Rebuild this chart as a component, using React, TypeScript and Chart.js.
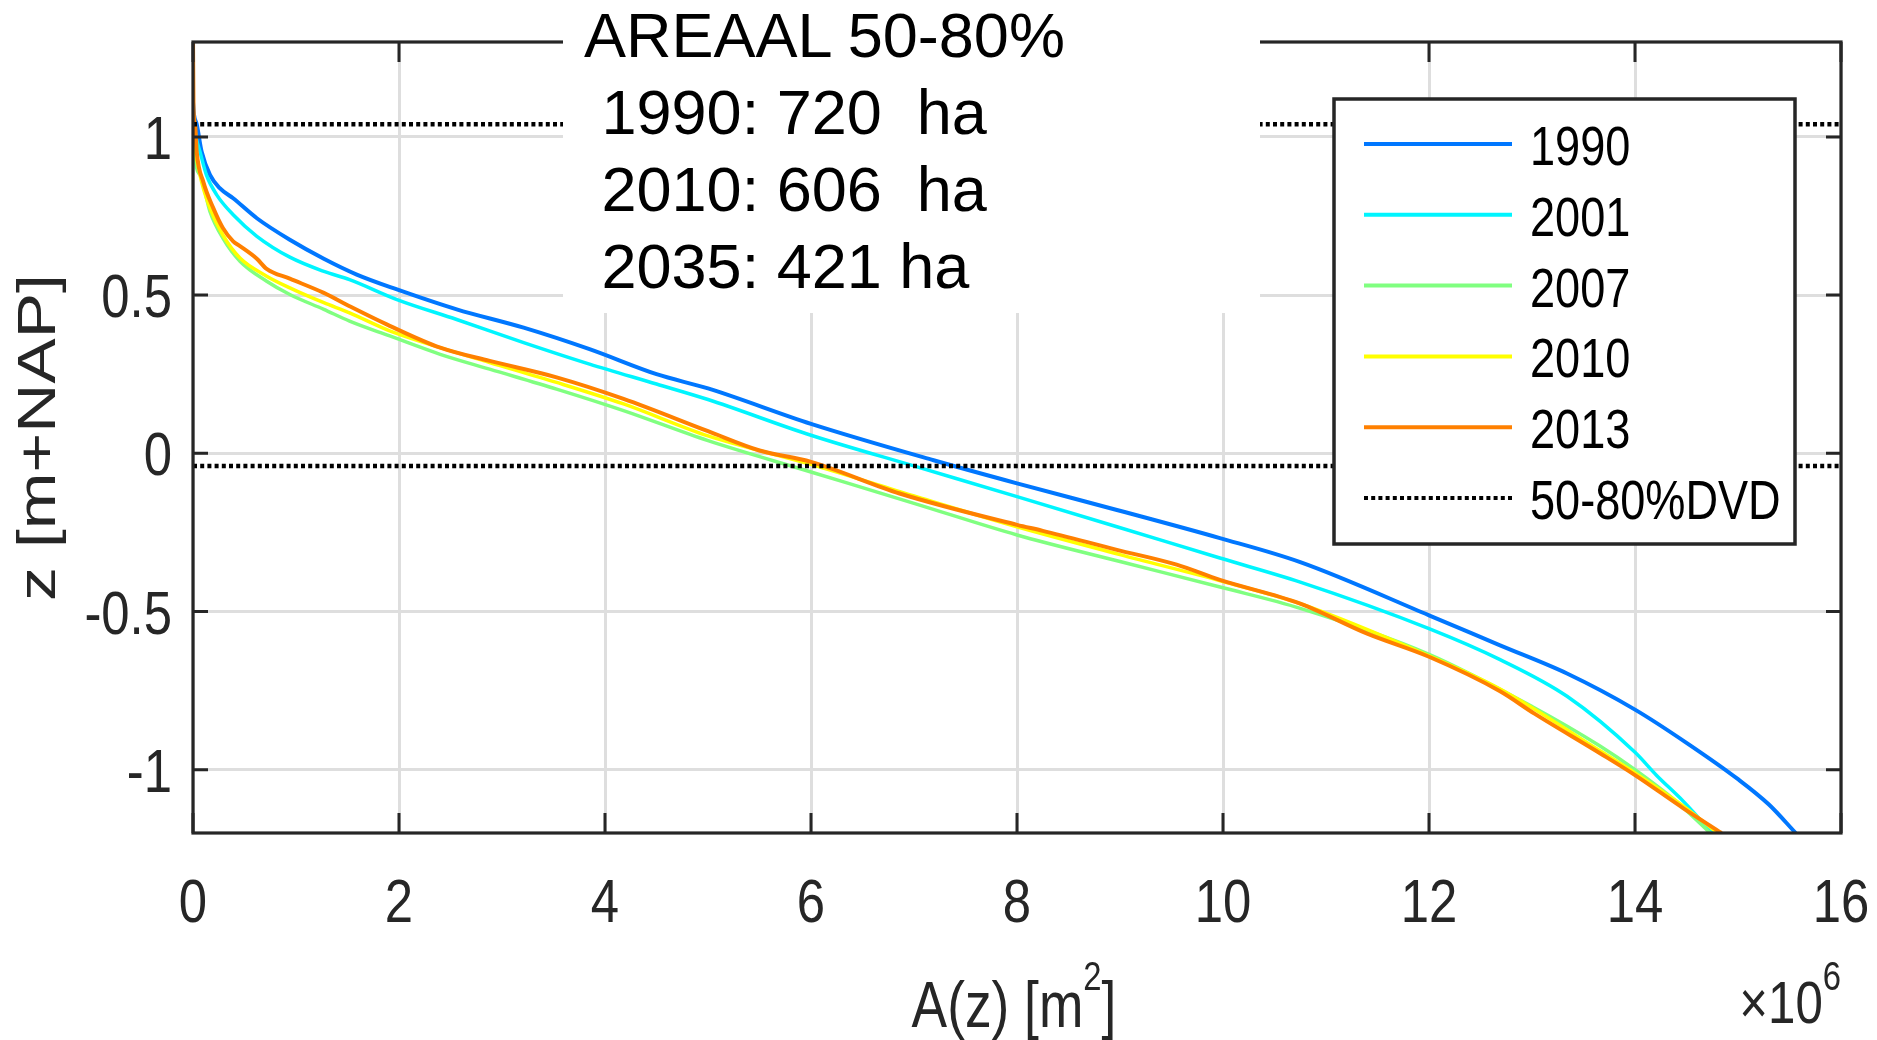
import React, { useEffect, useRef } from "react";
import { Chart, registerables } from "chart.js";

Chart.register(...registerables);

// ---------- data (A in 10^6 m^2, z in m+NAP) ----------
const seriesLabels = ["1990", "2001", "2007", "2010", "2013"];

const a1990 = [0, 0.01, 0.036, 0.084, 0.165, 0.26, 0.39, 0.62, 0.94, 1.27, 1.59, 1.98, 2.56, 3.21, 3.85, 4.5, 5.0, 6.0, 7.19, 8.0, 8.97, 9.97, 10.75, 12.0, 12.69, 13.34, 14.0, 14.5, 15.0, 15.3, 15.56];
const z1990 = [1.11, 1.07, 1.04, 0.953, 0.88, 0.838, 0.806, 0.743, 0.675, 0.615, 0.565, 0.518, 0.455, 0.397, 0.329, 0.25, 0.205, 0.093, -0.022, -0.095, -0.179, -0.268, -0.344, -0.512, -0.607, -0.696, -0.81, -0.915, -1.03, -1.11, -1.2];

const a2001 = [0, 0.02, 0.036, 0.068, 0.13, 0.23, 0.39, 0.62, 0.94, 1.27, 1.52, 1.98, 2.56, 3.21, 3.85, 4.5, 5.0, 6.0, 7.03, 8.0, 8.97, 9.97, 10.75, 12.0, 12.69, 13.34, 14.0, 14.21, 14.47, 14.75];
const z2001 = [1.05, 1.02, 0.99, 0.953, 0.88, 0.817, 0.754, 0.686, 0.62, 0.575, 0.549, 0.486, 0.423, 0.35, 0.282, 0.219, 0.17, 0.057, -0.043, -0.137, -0.232, -0.331, -0.407, -0.554, -0.652, -0.768, -0.945, -1.018, -1.1, -1.2];

const a2007 = [0, 0.005, 0.068, 0.165, 0.29, 0.456, 0.715, 0.94, 1.27, 1.52, 1.91, 2.4, 2.88, 3.53, 4.18, 5.0, 6.0, 7.0, 8.0, 9.0, 10.0, 10.75, 12.0, 13.0, 13.66, 14.0, 14.4, 14.73];
const z2007 = [1.17, 1.0, 0.88, 0.764, 0.68, 0.607, 0.544, 0.502, 0.455, 0.418, 0.371, 0.313, 0.266, 0.203, 0.135, 0.04, -0.059, -0.158, -0.258, -0.342, -0.425, -0.49, -0.635, -0.8, -0.925, -1.0, -1.1, -1.2];

const a2010 = [0, 0.01, 0.068, 0.165, 0.29, 0.456, 0.715, 0.94, 1.27, 1.52, 1.91, 2.4, 2.88, 3.53, 4.18, 5.0, 6.0, 7.0, 8.0, 9.0, 10.0, 10.75, 12.0, 12.69, 13.66, 14.0, 14.47, 14.8];
const z2010 = [1.06, 1.0, 0.88, 0.775, 0.69, 0.617, 0.56, 0.523, 0.476, 0.444, 0.387, 0.334, 0.287, 0.224, 0.156, 0.055, -0.035, -0.135, -0.232, -0.32, -0.405, -0.475, -0.64, -0.745, -0.94, -1.01, -1.115, -1.2];

const a2013 = [0, 0.005, 0.02, 0.036, 0.1, 0.197, 0.29, 0.39, 0.456, 0.62, 0.715, 0.94, 1.27, 1.52, 1.91, 2.4, 2.88, 3.53, 4.18, 5.0, 5.5, 6.0, 6.86, 8.0, 8.25, 8.97, 9.55, 9.97, 10.75, 11.4, 12.0, 12.69, 13.02, 13.66, 14.0, 14.47, 14.84];
const z2013 = [1.32, 1.09, 1.04, 0.953, 0.858, 0.775, 0.712, 0.67, 0.655, 0.615, 0.583, 0.552, 0.507, 0.465, 0.403, 0.334, 0.292, 0.24, 0.172, 0.07, 0.009, -0.027, -0.127, -0.226, -0.245, -0.305, -0.352, -0.4, -0.475, -0.57, -0.643, -0.752, -0.822, -0.948, -1.017, -1.122, -1.2];

const dvdLabel = "50-80%DVD";
const dvdLevels = [1.04, -0.04];
const xRange = [0, 16];
const yRange = [-1.2, 1.3];
const xTickValues = [0, 2, 4, 6, 8, 10, 12, 14, 16];
const yTickValues = [-1, -0.5, 0, 0.5, 1];
const titleLines = ["AREAAL 50-80%", " 1990: 720  ha", " 2010: 606  ha", " 2035: 421 ha"];
const xTitle = ["A(z) [m", "2", "]"];
const yTitle = "z [m+NAP]";
const xExponent = ["\u00d710", "6"];

// ---------- styles ----------
const seriesColors = ["#0077ff", "#00f5ff", "#80ff80", "#ffff00", "#ff8000"];
const seriesWidths = [4, 3.5, 3.5, 3.5, 4];
const SANS = "'Liberation Sans', Arial, Helvetica, sans-serif";
const AXIS = "#262626";
const SQUEEZE = 0.82;

const seriesA = [a1990, a2001, a2007, a2010, a2013];
const seriesZ = [z1990, z2001, z2007, z2010, z2013];

function narrowText(ctx: CanvasRenderingContext2D, text: string, x: number, y: number, size: number, align: CanvasTextAlign, color: string) {
  ctx.save();
  ctx.translate(x, y);
  ctx.scale(SQUEEZE, 1);
  ctx.font = `${size}px ${SANS}`;
  ctx.textAlign = align;
  ctx.textBaseline = "alphabetic";
  ctx.fillStyle = color;
  ctx.fillText(text, 0, 0);
  ctx.restore();
}

function narrowWidth(ctx: CanvasRenderingContext2D, text: string, size: number) {
  ctx.save();
  ctx.font = `${size}px ${SANS}`;
  const w = ctx.measureText(text).width * SQUEEZE;
  ctx.restore();
  return w;
}

const framePlugin = {
  id: "matlabFrame",
  afterDatasetsDraw(chart: any) {
    const { ctx, chartArea } = chart;
    const { left, right, top, bottom } = chartArea;
    const xs = chart.scales.x;
    const ys = chart.scales.y;
    ctx.save();
    // inward ticks
    ctx.strokeStyle = AXIS;
    ctx.lineWidth = 3;
    ctx.lineCap = "butt";
    ctx.setLineDash([]);
    ctx.beginPath();
    xs.ticks.forEach((t: any) => {
      const px = xs.getPixelForValue(t.value);
      ctx.moveTo(px, bottom);
      ctx.lineTo(px, bottom - 20);
      ctx.moveTo(px, top);
      ctx.lineTo(px, top + 20);
    });
    ys.ticks.forEach((t: any) => {
      const py = ys.getPixelForValue(t.value);
      ctx.moveTo(left, py);
      ctx.lineTo(left + 15, py);
      ctx.moveTo(right, py);
      ctx.lineTo(right - 15, py);
    });
    ctx.stroke();
    ctx.lineWidth = 3.2;
    ctx.strokeRect(left, top, right - left, bottom - top);

    // tick labels
    xs.ticks.forEach((t: any) => {
      narrowText(ctx, String(t.value), xs.getPixelForValue(t.value), bottom + 89, 62, "center", AXIS);
    });
    ys.ticks.forEach((t: any) => {
      narrowText(ctx, String(t.value), left - 21, ys.getPixelForValue(t.value) + 22, 62, "right", AXIS);
    });

    // legend box
    const lx = right - 507;
    const ly = top + 57;
    const lw = 461;
    const lh = 445;
    ctx.fillStyle = "#ffffff";
    ctx.fillRect(lx, ly, lw, lh);
    ctx.lineWidth = 3.5;
    ctx.strokeStyle = AXIS;
    ctx.strokeRect(lx, ly, lw, lh);
    const seen = new Set<string>();
    const items: any[] = [];
    chart.data.datasets.forEach((ds: any) => {
      if (!seen.has(ds.label)) {
        seen.add(ds.label);
        items.push(ds);
      }
    });
    items.forEach((ds: any, i: number) => {
      const cy = ly + 45 + i * 70.8;
      ctx.beginPath();
      ctx.strokeStyle = ds.borderColor;
      ctx.lineWidth = 4;
      ctx.setLineDash(ds.borderDash || []);
      ctx.moveTo(lx + 30, cy);
      ctx.lineTo(lx + 178, cy);
      ctx.stroke();
      ctx.setLineDash([]);
      narrowText(ctx, ds.label, lx + 196, cy + 21, 55, "left", "#000");
    });

    // x axis title with superscript
    const w0 = narrowWidth(ctx, xTitle[0], 65);
    const w1 = narrowWidth(ctx, xTitle[1], 40);
    const w2 = narrowWidth(ctx, xTitle[2], 65);
    let sx = (left + right) / 2 - (w0 + w1 + w2) / 2 - 3;
    const base = 1027;
    narrowText(ctx, xTitle[0], sx, base, 65, "left", AXIS);
    sx += w0;
    narrowText(ctx, xTitle[1], sx, base - 37, 40, "left", AXIS);
    sx += w1;
    narrowText(ctx, xTitle[2], sx, base, 65, "left", AXIS);

    // x10^6 exponent label
    const w6 = narrowWidth(ctx, xExponent[1], 40);
    narrowText(ctx, xExponent[1], right - w6, 990, 40, "left", AXIS);
    narrowText(ctx, xExponent[0], right - w6, 1023, 60, "right", AXIS);

    // y axis title (rotated, compressed across the glyph height)
    ctx.save();
    ctx.translate(55, (top + bottom) / 2);
    ctx.scale(0.78, 1);
    ctx.rotate(-Math.PI / 2);
    ctx.font = `68px ${SANS}`;
    ctx.fillStyle = AXIS;
    ctx.textAlign = "center";
    ctx.textBaseline = "alphabetic";
    ctx.fillText(yTitle, 0, 0);
    ctx.restore();

    ctx.restore();
  },
};

export default function App() {
  const ref = useRef<HTMLCanvasElement | null>(null);

  useEffect(() => {
    if (!ref.current) return;
    const datasets: any[] = seriesLabels.map((label, i) => ({
      label,
      data: seriesA[i].map((a, j) => ({ x: a, y: seriesZ[i][j] })),
      borderColor: seriesColors[i],
      backgroundColor: seriesColors[i],
      borderWidth: seriesWidths[i],
      pointRadius: 0,
      cubicInterpolationMode: "monotone",
      fill: false,
      order: seriesLabels.length - i,
    }));
    dvdLevels.forEach((lvl) => {
      datasets.push({
        label: dvdLabel,
        data: xRange.map((a) => ({ x: a, y: lvl })),
        borderColor: "#000000",
        backgroundColor: "#000000",
        borderWidth: 4.5,
        borderDash: [4, 3.2],
        pointRadius: 0,
        tension: 0,
        fill: false,
        order: 0,
      });
    });

    const chart = new Chart(ref.current, {
      type: "line",
      data: { datasets },
      options: {
        animation: false,
        responsive: false,
        devicePixelRatio: 1,
        parsing: false as any,
        layout: { padding: { top: 42, right: 36, left: 0, bottom: 0 } },
        plugins: {
          legend: { display: false },
          tooltip: { enabled: false },
          title: { display: false },
        },
        scales: {
          x: {
            type: "linear",
            min: xRange[0],
            max: xRange[1],
            afterBuildTicks: (s: any) => {
              s.ticks = xTickValues.map((v) => ({ value: v }));
            },
            afterFit: (s: any) => {
              s.height = 207;
            },
            grid: { color: "#dedede", lineWidth: 3, drawTicks: false },
            border: { display: false },
            ticks: { display: false },
          },
          y: {
            type: "linear",
            min: yRange[0],
            max: yRange[1],
            afterBuildTicks: (s: any) => {
              s.ticks = yTickValues.map((v) => ({ value: v }));
            },
            afterFit: (s: any) => {
              s.width = 193;
            },
            grid: { color: "#dedede", lineWidth: 3, drawTicks: false },
            border: { display: false },
            ticks: { display: false },
          },
        },
      },
      plugins: [framePlugin],
    });
    return () => chart.destroy();
  }, []);

  return (
    <div style={{ position: "absolute", left: 0, top: 0, width: 1877, height: 1040, background: "#fff", overflow: "hidden" }}>
      <canvas ref={ref} width={1877} height={1040} style={{ display: "block", width: 1877, height: 1040 }} />
      <div style={{ position: "absolute", left: 563, top: 0, width: 697, height: 313, background: "#fff" }}>
        <div
          style={{
            position: "absolute",
            left: 21,
            top: -3,
            fontFamily: SANS,
            fontSize: 63,
            lineHeight: "77px",
            whiteSpace: "pre",
            color: "#000",
          }}
        >
          {titleLines.join("\n")}
        </div>
      </div>
    </div>
  );
}
